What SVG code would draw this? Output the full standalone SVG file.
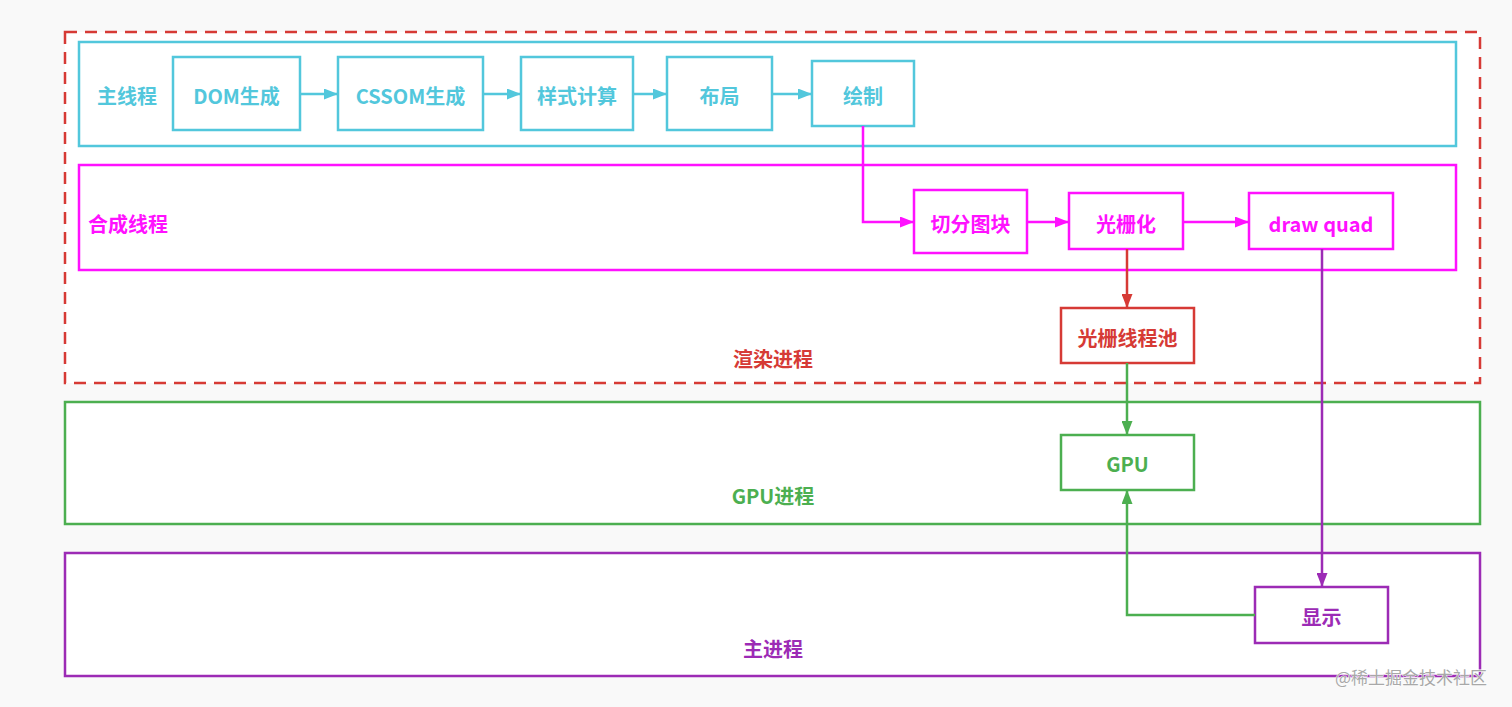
<svg xmlns="http://www.w3.org/2000/svg" width="1512" height="707" viewBox="0 0 1512 707">
<defs>
<style>
text{font-family:"Noto Sans CJK SC","Liberation Sans",sans-serif;font-weight:bold;font-size:20px;text-anchor:middle;dominant-baseline:central}
.cy{stroke:#52c7dc;fill:#fff;stroke-width:2.5}
.mg{stroke:#ff11ff;fill:#fff;stroke-width:2.5}
.rd{stroke:#d63a35;fill:#fff;stroke-width:2.5}
.gr{stroke:#4caf50;fill:#fff;stroke-width:2.5}
.pu{stroke:#9c2bb5;fill:#fff;stroke-width:2.5}
.tcy{fill:#52c7dc}.tmg{fill:#ff11ff}.trd{fill:#d63a35}.tgr{fill:#4caf50}.tpu{fill:#9c2bb5}
.line{fill:none;stroke-width:2.5}
</style>
<marker id="acy" viewBox="0 0 14 11" refX="14" refY="5.5" markerWidth="14" markerHeight="11" markerUnits="userSpaceOnUse" orient="auto"><path d="M0,0L14,5.5L0,11z" fill="#52c7dc"/></marker>
<marker id="amg" viewBox="0 0 14 11" refX="14" refY="5.5" markerWidth="14" markerHeight="11" markerUnits="userSpaceOnUse" orient="auto"><path d="M0,0L14,5.5L0,11z" fill="#ff11ff"/></marker>
<marker id="ard" viewBox="0 0 14 11" refX="14" refY="5.5" markerWidth="14" markerHeight="11" markerUnits="userSpaceOnUse" orient="auto"><path d="M0,0L14,5.5L0,11z" fill="#d63a35"/></marker>
<marker id="agr" viewBox="0 0 14 11" refX="14" refY="5.5" markerWidth="14" markerHeight="11" markerUnits="userSpaceOnUse" orient="auto"><path d="M0,0L14,5.5L0,11z" fill="#4caf50"/></marker>
<marker id="apu" viewBox="0 0 14 11" refX="14" refY="5.5" markerWidth="14" markerHeight="11" markerUnits="userSpaceOnUse" orient="auto"><path d="M0,0L14,5.5L0,11z" fill="#9c2bb5"/></marker>
</defs>
<rect width="1512" height="707" fill="#f9f9f9"/>

<g id="render-process">
<rect x="65" y="32" width="1415" height="351" fill="#fff" stroke="#d63a35" stroke-width="2.5" stroke-dasharray="12 8"/>
<text x="773" y="358" class="trd">渲染进程</text>
</g>
<g id="main-thread">
<rect x="79" y="42" width="1377" height="104" class="cy"/>
<text x="127" y="95" class="tcy">主线程</text>
</g>
<g id="compositor-thread">
<rect x="79" y="165" width="1377" height="105" class="mg"/>
<text x="128" y="223" class="tmg">合成线程</text>
</g>
<g id="gpu-process">
<rect x="65" y="402" width="1415" height="122" class="gr"/>
<text x="773" y="495" class="tgr">GPU进程</text>
</g>
<g id="browser-process">
<rect x="65" y="553" width="1415" height="123" class="pu"/>
<text x="773" y="648" class="tpu">主进程</text>
</g>

<g id="dom"><rect x="173" y="57" width="127" height="73" class="cy"/><text x="236.5" y="95" class="tcy">DOM生成</text></g>
<g id="cssom"><rect x="338" y="57" width="145" height="73" class="cy"/><text x="410.5" y="95" class="tcy">CSSOM生成</text></g>
<g id="style"><rect x="521" y="57" width="112" height="73" class="cy"/><text x="577" y="95" class="tcy">样式计算</text></g>
<g id="layout"><rect x="667" y="57" width="105" height="73" class="cy"/><text x="719.5" y="95" class="tcy">布局</text></g>
<g id="paint"><rect x="812" y="61" width="102" height="65" class="cy"/><text x="863" y="95" class="tcy">绘制</text></g>
<g id="tiles"><rect x="914" y="190" width="113" height="63" class="mg"/><text x="970.5" y="223" class="tmg">切分图块</text></g>
<g id="raster"><rect x="1069" y="193" width="114" height="56" class="mg"/><text x="1126" y="223" class="tmg">光栅化</text></g>
<g id="drawquad"><rect x="1249" y="193" width="144" height="56" class="mg"/><text x="1321" y="223" class="tmg">draw quad</text></g>
<g id="rasterpool"><rect x="1061" y="308" width="133" height="55" class="rd"/><text x="1127.5" y="337" class="trd">光栅线程池</text></g>
<g id="gpu"><rect x="1061" y="435" width="133" height="55" class="gr"/><text x="1127.5" y="463" class="tgr">GPU</text></g>
<g id="display"><rect x="1255" y="587" width="133" height="56" class="pu"/><text x="1321.5" y="616" class="tpu">显示</text></g>

<g id="connectors">
<path d="M300,94H338" class="line" stroke="#52c7dc" marker-end="url(#acy)"/>
<path d="M483,94H521" class="line" stroke="#52c7dc" marker-end="url(#acy)"/>
<path d="M633,94H667" class="line" stroke="#52c7dc" marker-end="url(#acy)"/>
<path d="M772,94H812" class="line" stroke="#52c7dc" marker-end="url(#acy)"/>
<path d="M863,126V222H914" class="line" stroke="#ff11ff" marker-end="url(#amg)"/>
<path d="M1027,222H1069" class="line" stroke="#ff11ff" marker-end="url(#amg)"/>
<path d="M1183,222H1249" class="line" stroke="#ff11ff" marker-end="url(#amg)"/>
<path d="M1127,249V308" class="line" stroke="#d63a35" marker-end="url(#ard)"/>
<path d="M1127,363V435" class="line" stroke="#4caf50" marker-end="url(#agr)"/>
<path d="M1322,249V587" class="line" stroke="#9c2bb5" marker-end="url(#apu)"/>
<path d="M1255,615H1127V490" class="line" stroke="#4caf50" marker-end="url(#agr)"/>
</g>

<text x="1411" y="676" style="font-weight:normal;font-size:17px;fill:#a8a8a8;stroke:#fff;stroke-width:0.8;paint-order:stroke">@稀土掘金技术社区</text>
</svg>
